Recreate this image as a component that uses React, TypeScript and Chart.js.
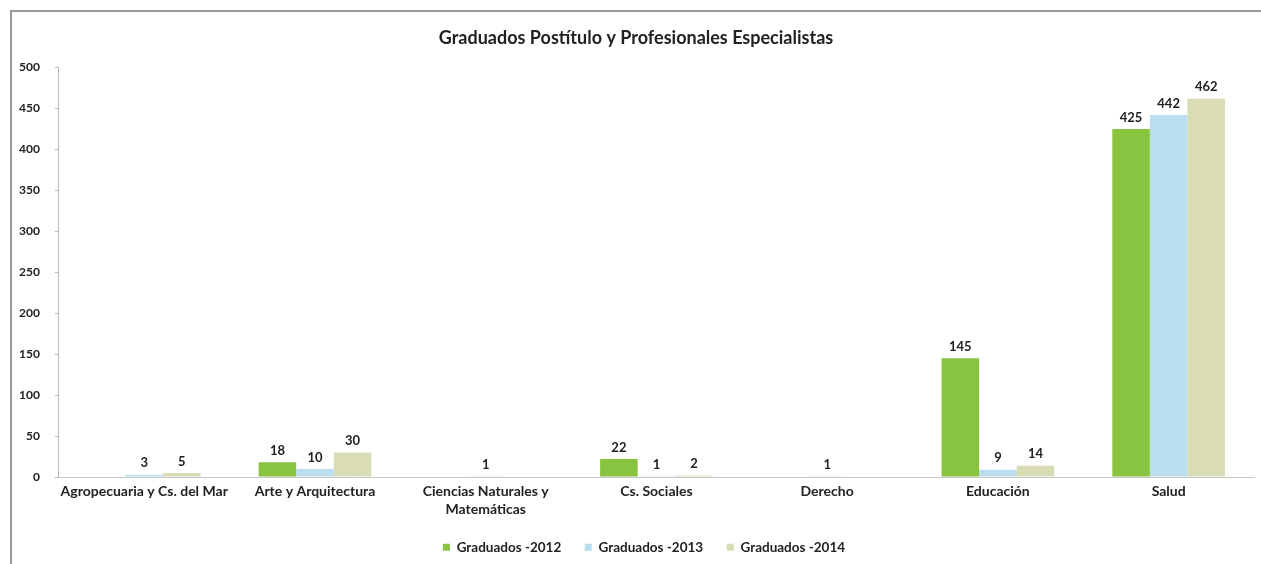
import React, { useEffect, useRef } from "react";
import { Chart, registerables } from "chart.js";

Chart.register(...registerables);

const categories: (string | string[])[] = [
  "Agropecuaria y Cs. del Mar",
  "Arte y Arquitectura",
  ["Ciencias Naturales y", "Matemáticas"],
  "Cs. Sociales",
  "Derecho",
  "Educación",
  "Salud",
];
const graduados2012 = [0, 18, 0, 22, 0, 145, 425];
const graduados2013 = [3, 10, 1, 1, 1, 9, 442];
const graduados2014 = [5, 30, 0, 2, 0, 14, 462];
const seriesNames = ["Graduados -2012", "Graduados -2013", "Graduados -2014"];
const title = "Graduados Postítulo y Profesionales Especialistas";

const FONT = "Lato, 'Open Sans', sans-serif";

const valueLabels = {
  id: "valueLabels",
  afterDatasetsDraw(chart: any) {
    const ctx = chart.ctx;
    ctx.save();
    ctx.font = `bold 13px ${FONT}`;
    ctx.fillStyle = "#222";
    ctx.textAlign = "center";
    ctx.textBaseline = "bottom";
    chart.data.datasets.forEach((ds: any, i: number) => {
      const meta = chart.getDatasetMeta(i);
      meta.data.forEach((bar: any, j: number) => {
        const v = ds.data[j];
        if (!v) return;
        ctx.fillText(String(v), bar.x, bar.y - 5);
      });
    });
    ctx.restore();
  },
};

const boxShift = {
  id: "boxShift",
  afterLayout(chart: any) {
    if (chart.legend) {
      chart.legend.left += 15;
      chart.legend.right += 15;
    }
    if (chart.titleBlock) {
      chart.titleBlock.left += 7;
      chart.titleBlock.right += 7;
    }
  },
};

export default function App() {
  const ref = useRef<HTMLCanvasElement | null>(null);
  useEffect(() => {
    document.body.style.margin = "0";
    const chart = new Chart(ref.current!, {
      type: "bar",
      data: {
        labels: categories,
        datasets: [
          { label: seriesNames[0], data: graduados2012, backgroundColor: "#88c43f" },
          { label: seriesNames[1], data: graduados2013, backgroundColor: "#badeef" },
          { label: seriesNames[2], data: graduados2014, backgroundColor: "#d9dcb5" },
        ],
      },
      options: {
        animation: false,
        responsive: false,
        maintainAspectRatio: false,
        layout: { padding: { left: -8, right: 7, top: 0, bottom: 0 } },
        datasets: { bar: { categoryPercentage: 0.66, barPercentage: 1 } },
        plugins: {
          title: {
            display: true,
            text: title,
            color: "#222",
            font: { family: FONT, size: 18, weight: "bold" },
            padding: { top: 15, bottom: 19 },
          },
          legend: {
            position: "bottom",
            labels: {
              boxWidth: 7,
              boxHeight: 7,
              padding: 17,
              color: "#222",
              font: { family: FONT, size: 13.5, weight: "bold" },
              generateLabels(chart: any) {
                const items = Chart.defaults.plugins.legend.labels.generateLabels(chart);
                items.forEach((it: any, i: number) => {
                  if (i < items.length - 1) it.text = it.text + "\u00a0\u00a0";
                });
                return items;
              },
            },
          },
          tooltip: { enabled: false },
        },
        scales: {
          x: {
            grid: { display: false, drawTicks: false, tickLength: 0 },
            border: { display: true, color: "#c8c8c8" },
            ticks: {
              color: "#222",
              padding: 5,
              font: { family: FONT, size: 14, weight: "bold", lineHeight: 1.3 },
              maxRotation: 0,
              autoSkip: false,
            },
          },
          y: {
            min: 0,
            max: 500,
            grid: { display: true, drawOnChartArea: false, tickLength: 4, color: "#bbb" },
            border: { display: true, color: "#bbb" },
            ticks: {
              stepSize: 50,
              color: "#222",
              padding: 15,
              font: { family: FONT, size: 12, weight: "bold" },
            },
          },
        },
      },
      plugins: [valueLabels, boxShift],
    });
    return () => chart.destroy();
  }, []);
  return (
    <div
      style={{
        position: "fixed",
        left: 10,
        top: 10,
        width: 1251,
        height: 554,
        borderTop: "2px solid #9a9a9a",
        borderLeft: "2px solid #9a9a9a",
        background: "#fff",
        boxSizing: "border-box",
      }}
    >
      <canvas ref={ref} width={1249} height={552} style={{ display: "block" }} />
    </div>
  );
}
